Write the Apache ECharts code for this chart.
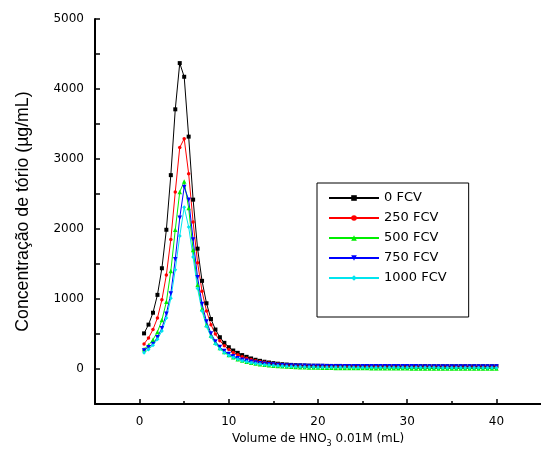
<!DOCTYPE html>
<html>
<head>
<meta charset="utf-8">
<script src="https://cdn.jsdelivr.net/npm/echarts@6/dist/echarts.min.js"></script>
<style>html,body{margin:0;padding:0;background:#fff;}#c{width:541px;height:453px;}</style>
</head>
<body>
<div id="c"></div>
<script>
var volume = [0.5,1,1.5,2,2.5,3,3.5,4,4.5,5,5.5,6,6.5,7,7.5,8,8.5,9,9.5,10,
  10.5,11,11.5,12,12.5,13,13.5,14,14.5,15,15.5,16,16.5,17,17.5,18,18.5,19,19.5,20,
  20.5,21,21.5,22,22.5,23,23.5,24,24.5,25,25.5,26,26.5,27,27.5,28,28.5,29,29.5,30,
  30.5,31,31.5,32,32.5,33,33.5,34,34.5,35,35.5,36,36.5,37,37.5,38,38.5,39,39.5,40];

var fcv0 = [510,635,805,1060,1440,1990,2770,3710,4370,4175,3320,2420,1720,1260,940,715,565,455,375,312,
  265,232,200,175,152,133,118,105,94,85,77,70,65,60,56,53,51,49,48,47,
  46,46,45,45,45,44,44,44,44,43,43,43,43,42,42,42,42,42,41,41,
  41,41,41,41,40,40,40,40,40,40,40,40,40,40,40,40,40,40,40,40];

var fcv250 = [360,445,565,730,990,1345,1850,2530,3165,3290,2790,2100,1520,1110,830,635,500,405,335,280,
  238,205,178,155,136,120,107,96,86,78,71,65,60,56,52,49,47,45,44,43,
  42,42,41,41,41,40,40,40,40,39,39,39,39,39,38,38,38,38,38,38,
  37,37,37,37,37,37,37,36,36,36,36,36,36,36,36,36,36,36,36,36];

var fcv500 = [285,340,420,530,700,960,1400,1990,2530,2680,2300,1700,1200,860,630,480,375,300,245,200,
  168,142,122,105,92,80,70,62,55,49,44,40,36,33,30,28,26,24,22,21,
  20,19,18,17,17,16,16,15,15,14,14,13,13,13,12,12,12,11,11,11,
  10,10,10,10,9,9,9,9,9,9,8,8,8,8,8,8,8,8,8,8];

var fcv750 = [265,312,360,455,585,790,1080,1570,2160,2600,2420,1850,1310,930,680,510,395,315,258,215,
  182,156,135,118,104,93,84,76,70,64,60,56,53,51,49,47,46,45,44,43,
  43,42,42,42,41,41,41,41,40,40,40,40,40,40,39,39,39,39,39,39,
  39,39,38,38,38,38,38,38,38,38,38,38,38,38,38,38,38,38,38,38];

var fcv1000 = [235,280,340,425,545,730,1010,1420,1900,2310,2030,1600,1150,830,610,460,360,288,235,195,
  165,140,120,104,91,80,71,63,57,51,47,43,40,37,35,33,31,30,29,28,
  27,27,26,26,25,25,25,24,24,24,23,23,23,23,22,22,22,22,22,21,
  21,21,21,21,21,21,20,20,20,20,20,20,20,20,20,20,20,20,20,20];

var seriesNames = ['0 FCV','250 FCV','500 FCV','750 FCV','1000 FCV'];
var xMajorTicks = [0,10,20,30,40];
var xMinorTicks = [5,15,25,35];
var yLabelTicks = [0,1000,2000,3000,4000,5000];

function pairs(ys){ return volume.map(function(x,i){ return [x, ys[i]]; }); }

var colors = ['#000000','#ff0000','#00ee00','#0000ff','#00e5ee'];
var symbols = ['rect','circle','triangle','triangle','diamond'];
var rotates = [0,0,0,180,0];
var sizes = [4,3.5,4.5,4.5,4];
var allData = [fcv0,fcv250,fcv500,fcv750,fcv1000];

var series = allData.map(function(d,i){
  return {
    name: seriesNames[i], type:'line', xAxisIndex:0, yAxisIndex:0,
    data: pairs(d), symbol: symbols[i], symbolRotate: rotates[i], symbolSize: sizes[i],
    showSymbol:true, showAllSymbol:true,
    lineStyle:{color:colors[i], width:1}, itemStyle:{color:colors[i]},
    emphasis:{disabled:true}, animation:false
  };
});

function plain(v){ return String(v); }

var chart = echarts.init(document.getElementById('c'));
chart.setOption({
  animation:false,
  backgroundColor:'#ffffff',
  grid:{left:95, right:0, top:19, bottom:46, containLabel:false},
  xAxis:[{
    type:'value', min:-5, max:45, interval:5,
    axisLine:{show:true, onZero:false, lineStyle:{color:'#000', width:2}},
    axisTick:{show:true, inside:true, length:5, customValues:xMajorTicks, lineStyle:{color:'#000', width:1.5}},
    axisLabel:{show:true, customValues:xMajorTicks, formatter:plain, margin:12, color:'#000', fontFamily:'DejaVu Sans', fontSize:12},
    splitLine:{show:false},
    name:'Volume de HNO{s|3} 0.01M (mL)', nameLocation:'middle', nameGap:24,
    nameTextStyle:{color:'#000', fontFamily:'DejaVu Sans', fontSize:12,
      rich:{s:{fontSize:8, padding:[10,0,0,0], fontFamily:'DejaVu Sans', color:'#000'}}}
  },{
    type:'value', min:-5, max:45, interval:5, position:'bottom',
    axisLine:{show:false, onZero:false},
    axisTick:{show:true, inside:true, length:3, customValues:xMinorTicks, lineStyle:{color:'#000', width:1.5}},
    axisLabel:{show:false}, splitLine:{show:false}
  }],
  yAxis:{
    type:'value', min:-500, max:5000, interval:500,
    axisLine:{show:true, onZero:false, lineStyle:{color:'#000', width:2}},
    axisTick:{show:true, inside:true, length:5, lineStyle:{color:'#000', width:1.5}},
    axisLabel:{show:true, customValues:yLabelTicks, formatter:plain, margin:11, color:'#000', fontFamily:'DejaVu Sans', fontSize:12},
    splitLine:{show:false},
    name:'Concentração de tório (µg/mL)', nameLocation:'middle', nameGap:63,
    nameTextStyle:{color:'#000', fontFamily:'Liberation Sans', fontSize:17.7}
  },
  legend:{
    orient:'vertical', left:317, top:183,
    data:seriesNames,
    itemWidth:50, itemHeight:7, itemGap:6,
    padding:[8,22,32,11],
    borderColor:'#000', borderWidth:1, backgroundColor:'#fff',
    textStyle:{color:'#000', fontFamily:'DejaVu Sans', fontSize:13, lineHeight:14},
    selectedMode:false
  },
  series: series
});
</script>
</body>
</html>
